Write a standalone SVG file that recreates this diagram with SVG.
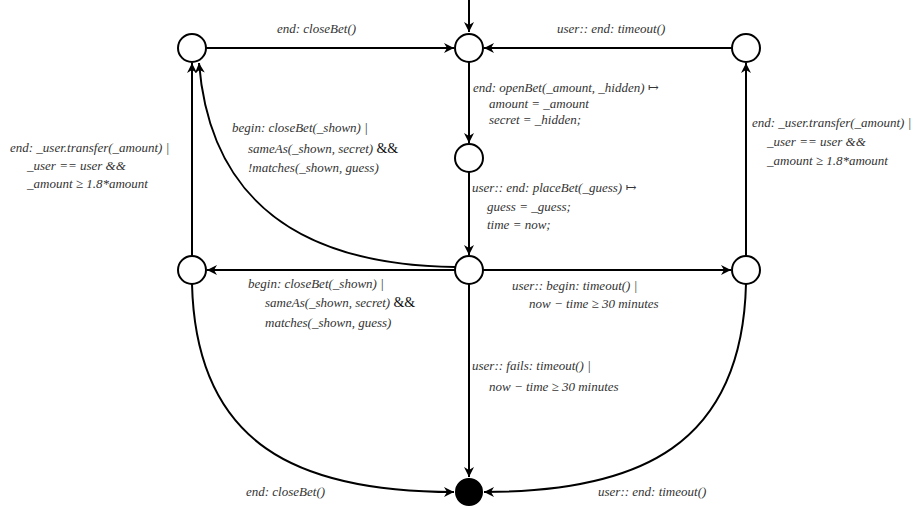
<svg xmlns="http://www.w3.org/2000/svg" width="923" height="506" viewBox="0 0 923 506">
  <style>
    .st { fill: #ffffff; stroke: #000000; stroke-width: 2; }
    .fin { fill: #000000; stroke: #000000; stroke-width: 2; }
    .e { fill: none; stroke: #000000; stroke-width: 2; marker-end: url(#arr); }
    .lb { font-family: "Liberation Serif", "DejaVu Serif", serif; font-style: italic; font-size: 13px; fill: #333333; }
    .up { font-style: normal; font-size: 14px; fill: #111111; }
  </style>
  <defs>
    <marker id="arr" markerUnits="userSpaceOnUse" markerWidth="12" markerHeight="10" refX="10" refY="5" orient="auto">
      <path d="M0,0 L10,5 L0,10 L3,5 z" fill="#000000"/>
    </marker>
  </defs>
  <rect width="923" height="506" fill="#ffffff"/>

  <!-- transitions -->
  <g id="connectors">
    <path class="e" d="M469 0 L469 32"/>
    <path class="e" d="M206 48 L454 48"/>
    <path class="e" d="M732 48 L484 48"/>
    <path class="e" d="M469 62 L469 143"/>
    <path class="e" d="M469 172 L469 255"/>
    <path class="e" d="M483 270 L731 270"/>
    <path class="e" d="M455 270 L207 270"/>
    <path class="e" d="M192 256 L192 63"/>
    <path class="e" d="M455 267 C300 265, 210 200, 199 63"/>
    <path class="e" d="M746 256 L746 63"/>
    <path class="e" d="M469 284 L469 477"/>
    <path class="e" d="M192 284 C196 445, 298 492, 454 492"/>
    <path class="e" d="M746 284 C742 445, 640 492, 484 492"/>
  </g>

  <!-- transition labels -->
  <g id="labels" class="lb">
    <text x="277" y="33">end: closeBet()</text>
    <text x="557" y="33">user:: end: timeout()</text>
    <text x="473" y="92">end: openBet(_amount, _hidden) ↦</text>
    <text x="489" y="108">amount = _amount</text>
    <text x="489" y="124">secret = _hidden;</text>
    <text x="472" y="192">user:: end: placeBet(_guess) ↦</text>
    <text x="487" y="211">guess = _guess;</text>
    <text x="487" y="229">time = now;</text>
    <text x="512" y="290">user:: begin: timeout() |</text>
    <text x="529" y="308">now − time ≥ 30 minutes</text>
    <text x="248" y="288">begin: closeBet(_shown) |</text>
    <text x="265" y="307">sameAs(_shown, secret) <tspan class="up">&amp;&amp;</tspan></text>
    <text x="265" y="327">matches(_shown, guess)</text>
    <text x="10" y="152">end: _user.transfer(_amount) |</text>
    <text x="27" y="170">_user == user &amp;&amp;</text>
    <text x="27" y="188">_amount ≥ 1.8*amount</text>
    <text x="232" y="132">begin: closeBet(_shown) |</text>
    <text x="248" y="153">sameAs(_shown, secret) <tspan class="up">&amp;&amp;</tspan></text>
    <text x="248" y="172">!matches(_shown, guess)</text>
    <text x="752" y="127">end: _user.transfer(_amount) |</text>
    <text x="767" y="146">_user == user &amp;&amp;</text>
    <text x="767" y="165">_amount ≥ 1.8*amount</text>
    <text x="472" y="370">user:: fails: timeout() |</text>
    <text x="489" y="391">now − time ≥ 30 minutes</text>
    <text x="246" y="496">end: closeBet()</text>
    <text x="598" y="496">user:: end: timeout()</text>
  </g>

  <!-- states -->
  <g id="s-closing"><circle class="st" cx="192" cy="48" r="14"/></g>
  <g id="s-init"><circle class="st" cx="469" cy="48" r="14"/></g>
  <g id="s-timeout"><circle class="st" cx="746" cy="48" r="14"/></g>
  <g id="s-open"><circle class="st" cx="469" cy="158" r="14"/></g>
  <g id="s-lost"><circle class="st" cx="192" cy="270" r="14"/></g>
  <g id="s-placed"><circle class="st" cx="469" cy="270" r="14"/></g>
  <g id="s-expired"><circle class="st" cx="746" cy="270" r="14"/></g>
  <g id="s-final"><circle class="fin" cx="469" cy="492" r="13"/></g>
</svg>
